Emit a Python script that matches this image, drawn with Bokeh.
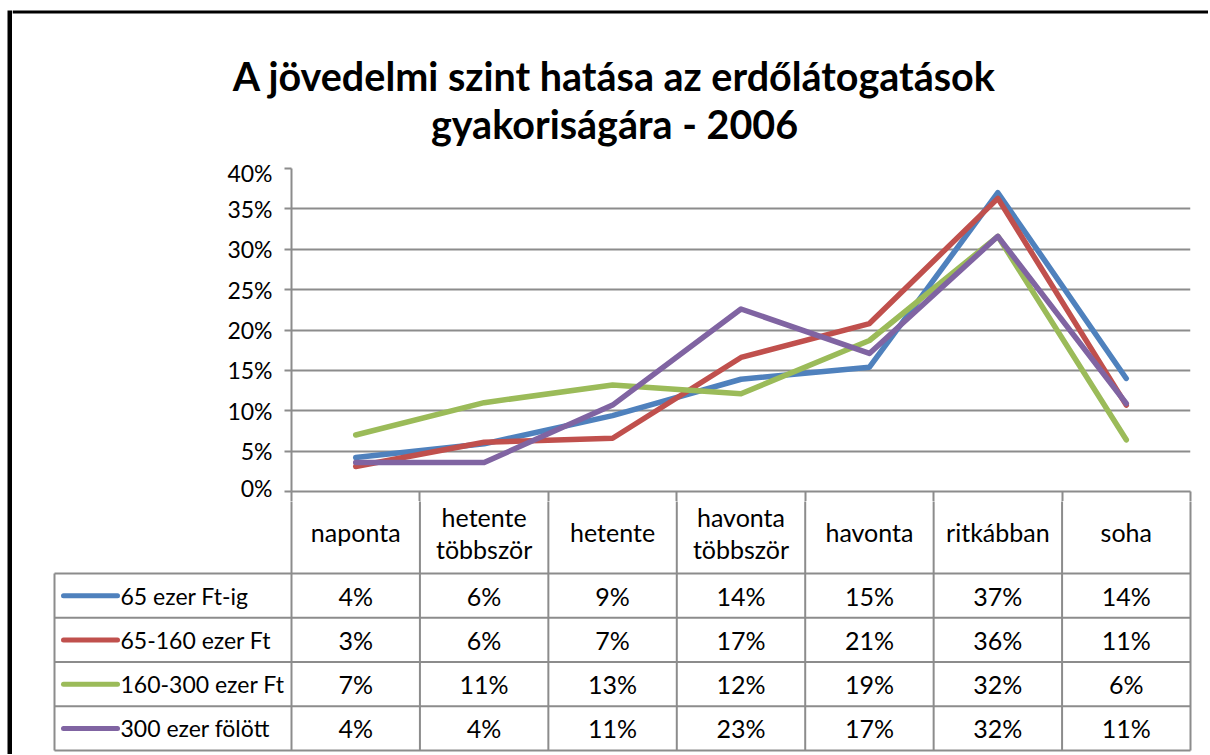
from bokeh.plotting import figure
from bokeh.layouts import column, row
from bokeh.models import Range1d, FixedTicker, PrintfTickFormatter
from bokeh.core.properties import value
from bokeh.embed import file_html
from bokeh.resources import INLINE

# ---------------- data ----------------
categories = ["naponta", "hetente többször", "hetente", "havonta többször",
              "havonta", "ritkábban", "soha"]
series_names = ["65 ezer Ft-ig", "65-160 ezer Ft", "160-300 ezer Ft", "300 ezer fölött"]
s_65 = [4.2, 5.9, 9.4, 13.9, 15.4, 37.0, 14.0]
s_65_160 = [3.1, 6.1, 6.6, 16.6, 20.8, 36.3, 10.7]
s_160_300 = [7.0, 11.0, 13.2, 12.1, 18.7, 31.6, 6.4]
s_300 = [3.6, 3.6, 10.7, 22.6, 17.1, 31.6, 10.9]
y_ticks = [0, 5, 10, 15, 20, 25, 30, 35, 40]
title_lines = ["A jövedelmi szint hatása az erdőlátogatások", "gyakoriságára - 2006"]

series = [s_65, s_65_160, s_160_300, s_300]
colors = ["#4F81BD", "#C0504D", "#9BBB59", "#8064A2"]

FONT = "Lato"
GRID = "#8C8C8C"
H = 754           # total height of the page content
W = 1196          # width of the main column
n = len(categories)
xc = [i + 0.5 for i in range(n)]     # column centres of the categories

common = dict(toolbar_location=None, output_backend="svg", outline_line_color=None)

# ---------------- left frame bar ----------------
fbar = figure(width=12, height=H, x_range=Range1d(0, 12), y_range=Range1d(H, 0),
              x_axis_location=None, y_axis_location=None, min_border=0, **common)
fbar.grid.visible = False
fbar.quad(left=[7], right=[12], top=[10], bottom=[H], fill_color="black", line_color=None)

# ---------------- title ----------------
TH = 158
ft = figure(width=W, height=TH, x_range=Range1d(0, W), y_range=Range1d(TH, 0),
            x_axis_location=None, y_axis_location=None, min_border=0, **common)
ft.grid.visible = False
ft.quad(left=[0], right=[W], top=[10], bottom=[13], fill_color="black", line_color=None)
ft.text(x=[602, 602], y=[75, 123], text=title_lines, text_font=value(FONT),
        text_font_style="bold", text_font_size="39.5px", text_align="center",
        text_baseline="alphabetic", text_color="black")

# ---------------- chart ----------------
fa = figure(width=W, height=343, x_range=Range1d(0, n), y_range=Range1d(0, 40),
            min_border_left=279, min_border_right=W - 1178, min_border_top=10,
            min_border_bottom=10, **common)
fa.xgrid.visible = False
yt = FixedTicker(ticks=y_ticks)
fa.yaxis.ticker = yt
fa.ygrid.ticker = yt
fa.ygrid.grid_line_color = GRID
fa.ygrid.grid_line_width = 2
ya = fa.yaxis[0]
ya.formatter = PrintfTickFormatter(format="%d%%")
ya.major_label_text_font = FONT
ya.major_label_text_font_size = "23px"
ya.major_label_text_color = "black"
ya.axis_line_color = GRID
ya.axis_line_width = 2
ya.major_tick_out = 7
ya.major_tick_in = 0
ya.major_tick_line_color = GRID
ya.major_tick_line_width = 2
ya.minor_tick_line_color = None
ya.major_label_standoff = 12

xa = fa.xaxis[0]
xa.ticker = FixedTicker(ticks=[], minor_ticks=list(range(n + 1)))
xa.axis_line_color = GRID
xa.axis_line_width = 2
xa.major_tick_in = 0
xa.major_tick_out = 0
xa.minor_tick_in = 0
xa.minor_tick_out = 10
xa.minor_tick_line_color = GRID
xa.minor_tick_line_width = 2
xa.major_label_standoff = 0
xa.major_label_text_font_size = "0px"

for vals, c in zip(series, colors):
    fa.line(x=xc, y=vals, line_color=c, line_width=5.5,
            line_join="round", line_cap="round")

# ---------------- data table ----------------
unit = 899 / n          # pixels per category column
PITCH = 44.25           # row height in pixels


def px(xpage):
    return (xpage - 291) / unit


def py(ypage):
    return (750 - ypage) / PITCH


fb = figure(width=W, height=H - 501, x_range=Range1d(px(52), px(1192)),
            y_range=Range1d(py(H), py(501)), x_axis_location=None, y_axis_location=None,
            min_border_left=40, min_border_right=W - 1180, min_border_top=0,
            min_border_bottom=0, **common)
fb.grid.visible = False

ns = len(series)
# horizontal borders
fb.segment(x0=[px(54)] * (ns + 1), x1=[n] * (ns + 1), y0=list(range(ns + 1)),
           y1=list(range(ns + 1)), line_color=GRID, line_width=2)
# vertical borders
top = py(495)
fb.segment(x0=[px(54)] + list(range(n + 1)), x1=[px(54)] + list(range(n + 1)),
           y0=[0] * (n + 2), y1=[ns] + [top] * (n + 1), line_color=GRID, line_width=2)

# header (category names, wrapped on the space like the reference)
hx, hy, ht = [], [], []
for i, c in enumerate(categories):
    words = c.split(" ")
    if len(words) == 1:
        hx.append(xc[i]); hy.append(py(531)); ht.append(c)
    else:
        hx += [xc[i], xc[i]]; hy += [py(516), py(548)]; ht += words
fb.text(x=hx, y=hy, text=ht, text_font=value(FONT), text_font_size="25px",
        text_align="center", text_baseline="middle", text_color="black")

# rows
for k, (vals, c, name) in enumerate(zip(series, colors, series_names)):
    yc = ns - 0.5 - k
    fb.segment(x0=[px(63)], x1=[px(117)], y0=[yc], y1=[yc], line_color=c,
               line_width=5, line_cap="round")
    fb.text(x=[px(120)], y=[yc], text=[name], text_font=value(FONT),
            text_font_size="23px", text_align="left", text_baseline="middle",
            text_color="black")
    fb.text(x=xc, y=[yc] * n,
            text=[f"{round(v)}%" for v in vals], text_font=value(FONT),
            text_font_size="25px", text_align="center", text_baseline="middle",
            text_color="black")

for f in (fbar, ft, fa, fb):
    f.frame_align = False

layout = row(fbar, column(ft, fa, fb, spacing=0), spacing=0)

open("out.html", "w").write(file_html(layout, INLINE))
